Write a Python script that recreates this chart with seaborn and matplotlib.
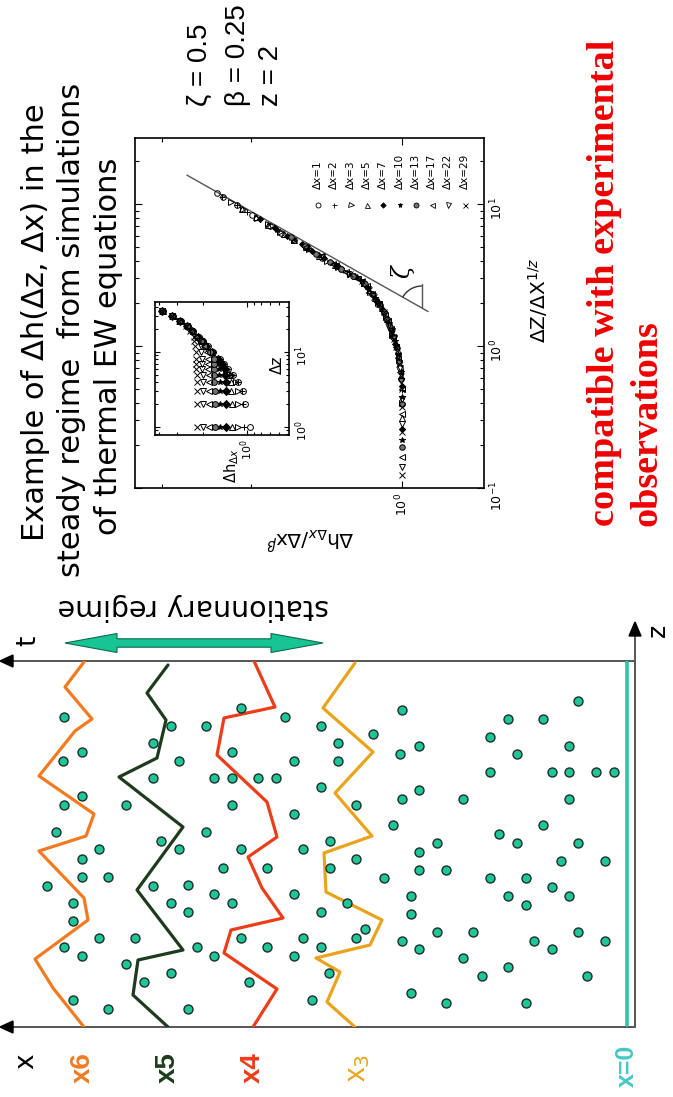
import numpy as np
import pandas as pd
import matplotlib
matplotlib.use("Agg")
import matplotlib.pyplot as plt
import seaborn as sns
from matplotlib.patches import Polygon, Arc
from matplotlib.transforms import IdentityTransform
from matplotlib.ticker import FixedLocator, NullFormatter, LogFormatterMathtext, LogLocator

sns.set_theme(style="white")
plt.rcParams["font.family"] = ["DejaVu Sans"]
plt.rcParams["mathtext.fontset"] = "dejavusans"
for key in ("text.color", "axes.labelcolor", "xtick.color", "ytick.color",
            "axes.edgecolor"):
    plt.rcParams[key] = "black"

# ---------------- scaling exponents ----------------
zeta, beta, z_dyn = 0.5, 0.25, 2

# ---------------- data collapse: Δh/Δx^β versus Δz/Δx^(1/z) ----------------
dx_values = [1, 2, 3, 5, 7, 10, 13, 17, 22, 29]
collapse_u = [
    [0.7, 1.4, 2.1, 2.8, 3.5, 4.2, 4.9, 5.6, 6.3, 7.0, 8.4, 9.8, 11.2, 11.9],
    [0.49, 0.98, 1.47, 1.96, 2.45, 2.94, 3.43, 3.92, 4.41, 4.9, 5.88, 6.86, 7.84,
     8.82, 9.8, 11.27],
    [0.4, 0.8, 1.2, 1.6, 2.0, 2.4, 2.8, 3.2, 3.6, 4.0, 4.8, 5.6, 6.4, 7.2, 8.0, 9.2, 10.4],
    [0.31, 0.62, 0.93, 1.24, 1.55, 1.86, 2.17, 2.48, 2.79, 3.1, 3.72, 4.34, 4.96, 5.58,
     6.2, 7.13, 8.06, 9.3],
    [0.26, 0.52, 0.78, 1.04, 1.3, 1.56, 1.82, 2.08, 2.34, 2.6, 3.12, 3.64, 4.16, 4.68,
     5.2, 5.98, 6.76, 7.8],
    [0.218, 0.436, 0.654, 0.872, 1.09, 1.31, 1.53, 1.74, 1.96, 2.18, 2.62, 3.05, 3.49,
     3.92, 4.36, 5.01, 5.67, 6.54],
    [0.194, 0.388, 0.582, 0.776, 0.97, 1.16, 1.36, 1.55, 1.75, 1.94, 2.33, 2.72, 3.1,
     3.49, 3.88, 4.46, 5.04, 5.82],
    [0.165, 0.33, 0.495, 0.66, 0.825, 0.99, 1.16, 1.32, 1.49, 1.65, 1.98, 2.31, 2.64,
     2.97, 3.3, 3.8, 4.29, 4.95],
    [0.141, 0.282, 0.423, 0.564, 0.705, 0.846, 0.987, 1.13, 1.27, 1.41, 1.69, 1.97,
     2.26, 2.54, 2.82, 3.24, 3.67, 4.23],
    [0.124, 0.248, 0.372, 0.496, 0.62, 0.744, 0.868, 0.992, 1.12, 1.24, 1.49, 1.74,
     1.98, 2.23, 2.48, 2.85, 3.22, 3.72],
]
collapse_h = [
    [1.01, 1.06, 1.125, 1.19, 1.32, 1.44, 1.54, 1.64, 1.74, 1.83, 1.99, 2.13, 2.27, 2.33],
    [1.0, 1.025, 1.065, 1.105, 1.155, 1.21, 1.31, 1.39, 1.47, 1.54, 1.68, 1.80, 1.92,
     2.03, 2.13, 2.28],
    [1.0, 1.015, 1.045, 1.075, 1.115, 1.155, 1.19, 1.27, 1.34, 1.41, 1.53, 1.64, 1.75,
     1.85, 1.94, 2.07, 2.19],
    [1.0, 1.005, 1.02, 1.045, 1.07, 1.095, 1.13, 1.16, 1.19, 1.24, 1.36, 1.46, 1.55,
     1.64, 1.72, 1.85, 1.95, 2.08],
    [1.0, 1.0, 1.015, 1.03, 1.05, 1.075, 1.095, 1.12, 1.145, 1.175, 1.245, 1.34, 1.43,
     1.51, 1.58, 1.69, 1.79, 1.92],
    [1.0, 1.0, 1.005, 1.018, 1.034, 1.05, 1.07, 1.088, 1.108, 1.13, 1.175, 1.23, 1.32,
     1.39, 1.46, 1.56, 1.65, 1.77],
    [1.0, 1.0, 1.005, 1.013, 1.022, 1.04, 1.055, 1.07, 1.087, 1.105, 1.145, 1.185, 1.25,
     1.32, 1.39, 1.48, 1.56, 1.66],
    [1.0, 1.0, 1.0, 1.007, 1.016, 1.025, 1.04, 1.052, 1.067, 1.08, 1.11, 1.145, 1.175,
     1.22, 1.29, 1.37, 1.45, 1.55],
    [1.0, 1.0, 1.0, 1.004, 1.01, 1.017, 1.025, 1.037, 1.048, 1.06, 1.083, 1.11, 1.14,
     1.17, 1.2, 1.28, 1.35, 1.44],
    [1.0, 1.0, 1.0, 1.0, 1.005, 1.012, 1.018, 1.025, 1.035, 1.045, 1.067, 1.085, 1.11,
     1.135, 1.16, 1.2, 1.27, 1.35],
]
fit_u = [1.75, 16.0]
fit_prefactor = 0.67

# ---------------- raw correlation Δh_Δx versus Δz (inset) ----------------
inset_dz = [1, 2, 3, 4, 5, 6, 7, 8, 10, 12, 14, 16, 19, 22, 26, 30, 35]
inset_h = [
    [0.95, 1.03, 1.07, 1.15, 1.25, 1.35, 1.44, 1.53, 1.71, 1.86, 2.0, 2.14, 2.33, 2.52,
     2.84, 3.2, 3.76],
    [1.05, 1.06, 1.08, 1.16, 1.26, 1.36, 1.45, 1.54, 1.72, 1.87, 2.01, 2.15, 2.34, 2.53,
     2.85, 3.21, 3.77],
    [1.15, 1.16, 1.16, 1.18, 1.27, 1.37, 1.46, 1.55, 1.73, 1.88, 2.02, 2.16, 2.35, 2.54,
     2.86, 3.22, 3.78],
    [1.27, 1.27, 1.28, 1.28, 1.30, 1.39, 1.47, 1.56, 1.74, 1.89, 2.03, 2.17, 2.36, 2.55,
     2.87, 3.23, 3.79],
    [1.39, 1.39, 1.40, 1.40, 1.41, 1.42, 1.49, 1.58, 1.75, 1.90, 2.04, 2.18, 2.37, 2.56,
     2.88, 3.24, 3.80],
    [1.53, 1.53, 1.54, 1.54, 1.55, 1.55, 1.56, 1.60, 1.77, 1.91, 2.05, 2.19, 2.38, 2.57,
     2.89, 3.25, 3.81],
    [1.66, 1.66, 1.66, 1.67, 1.67, 1.68, 1.68, 1.69, 1.80, 1.93, 2.06, 2.20, 2.39, 2.58,
     2.90, 3.26, 3.82],
    [1.82, 1.82, 1.82, 1.83, 1.83, 1.84, 1.84, 1.85, 1.87, 1.96, 2.08, 2.22, 2.40, 2.59,
     2.91, 3.27, 3.83],
    [2.00, 2.00, 2.00, 2.01, 2.01, 2.02, 2.02, 2.03, 2.05, 2.07, 2.12, 2.25, 2.42, 2.61,
     2.92, 3.28, 3.84],
    [2.20, 2.20, 2.20, 2.21, 2.21, 2.22, 2.22, 2.23, 2.25, 2.27, 2.29, 2.32, 2.45, 2.63,
     2.94, 3.29, 3.85],
]

# ---------------- schematic: impurities and successive front positions ----------------
# h: height above the x=0 line, z: position along the front
dot_h = [56.3, 54.5, 56.4, 47.4, 47.4, 54.5, 56.3, 50.1, 57.1, 46.6, 52.8, 54.5, 54.5,
         51.9, 58.0, 47.4, 55.4, 55.4, 52.8, 49.2, 56.3, 54.5, 50.1, 48.3, 55.4, 51.9,
         38.6, 34.2, 45.6, 42.1, 30.6, 39.5, 44.8, 33.3, 41.3, 39.5, 36.9, 35.1, 30.6,
         39.5, 33.3, 42.1, 44.8, 38.6, 32.4, 40.4, 36.0, 43.9, 41.3, 45.6, 43.9, 39.5,
         33.3, 30.6, 38.6, 32.4, 43.0, 36.0, 30.6, 41.3, 33.3, 45.6, 37.8, 31.5, 43.9,
         22.5, 25.4, 28.9, 20.8, 22.7, 28.9, 20.8, 22.5, 16.4, 27.1, 23.4, 29.7, 19.0,
         20.8, 27.1, 29.7, 20.8, 18.1, 24.3, 21.6, 28.0, 21.6, 26.2, 27.1, 19.0, 15.4,
         22.5, 20.8, 16.4, 29.8, 14.5, 21.6, 18.1,
         4.9, 11.9, 8.4, 13.7, 5.8, 11.0, 13.7, 7.5, 5.8, 3.1, 1.3, 5.8, 8.4, 12.8,
         11.0, 4.9, 6.6, 2.2, 13.7, 10.1, 7.5, 11.9, 10.1, 5.8, 4.9, 9.3, 2.2, 7.5,
         11.9, 4.0, 10.1]
dot_z = [31.0, 27.5, 26.6, 28.4, 24.9, 23.1, 22.2, 22.2, 19.5, 18.6, 17.8, 16.8, 15.0,
         15.0, 14.1, 14.1, 12.4, 10.6, 8.9, 8.9, 8.0, 7.1, 6.3, 4.5, 2.7, 1.8,
         31.9, 31.0, 30.1, 30.1, 30.1, 27.5, 26.6, 26.6, 24.9, 24.9, 24.9, 24.9, 24.0,
         22.2, 21.3, 19.5, 17.8, 17.8, 17.8, 15.9, 15.9, 14.2, 13.3, 12.4, 11.5, 12.4,
         13.3, 11.5, 8.9, 8.9, 8.0, 8.0, 8.0, 7.1, 7.1, 5.4, 4.5, 2.7, 1.8,
         31.7, 29.3, 28.4, 28.1, 27.3, 26.6, 23.7, 22.8, 22.8, 22.2, 20.2, 18.6, 18.4,
         17.5, 16.8, 15.9, 15.7, 15.7, 14.9, 13.1, 12.4, 11.3, 9.8, 8.9, 9.5, 9.5,
         8.6, 7.8, 6.9, 5.4, 5.1, 3.4, 2.4,
         32.6, 30.8, 30.8, 29.0, 28.1, 27.3, 25.5, 25.5, 25.5, 25.5, 25.5, 22.8, 20.2, 19.3,
         18.4, 18.4, 16.6, 16.6, 14.9, 14.9, 14.0, 13.1, 12.2, 13.1, 9.5, 8.6, 8.6, 7.8,
         6.0, 5.1, 2.4]

front_names = ["x6", "x5", "x4", "x3"]
front_h = [
    [54.3, 56.2, 53.5, 55.2, 58.8, 53.3, 54.1, 58.8, 54.3, 53.9, 59.2, 57.4, 54.3],
    [45.9, 48.0, 46.1, 47.0, 50.8, 44.4, 49.0, 44.4, 48.9, 49.4, 45.9],
    [37.3, 35.2, 40.3, 41.0, 36.0, 35.0, 37.9, 36.5, 34.4, 39.6, 40.3, 35.0, 37.4],
    [27.2, 30.4, 25.4, 29.2, 25.5, 30.3, 30.1, 24.5, 25.7, 31.1, 28.7, 30.0, 27.2],
]
front_z = [
    [36.5, 34.0, 30.8, 29.6, 25.1, 21.3, 19.1, 17.6, 12.9, 10.7, 6.8, 3.9, 0.0],
    [36.2, 33.4, 30.7, 26.9, 25.0, 20.0, 13.7, 7.7, 6.7, 3.2, 0.0],
    [36.6, 32.0, 30.9, 27.2, 22.5, 19.0, 17.0, 13.9, 10.9, 9.7, 7.4, 3.8, 0.0],
    [36.4, 31.9, 27.5, 23.4, 19.1, 17.4, 13.5, 10.7, 8.2, 6.9, 5.5, 2.5, 0.0],
]
front_colors = ["#f37a1f", "#1d3b1d", "#ec3d18", "#e9a31c"]

# ---------------- figure ----------------
W, H = 673, 1097
fig = plt.figure(figsize=(W / 100, H / 100), dpi=100)
fig.patch.set_facecolor("white")


def fx(px):
    return px / W


def fy(py):
    return 1 - py / H


series_style = [
    dict(marker="o", mfc="none"),
    dict(marker="+"),
    dict(marker=">", mfc="none"),
    dict(marker="^", mfc="none"),
    dict(marker="D", mfc="black", ms=3.0),
    dict(marker="*", mfc="black"),
    dict(marker="o", mfc="0.45"),
    dict(marker="<", mfc="none"),
    dict(marker="v", mfc="none"),
    dict(marker="x"),
]


def style_log_axes(a, fs=9):
    for s in a.spines.values():
        s.set_linewidth(1.2)
        s.set_color("black")
    a.tick_params(which="both", direction="in", top=True, bottom=True, left=True,
                  right=True, colors="black", labelsize=fs, width=0.8)
    a.tick_params(which="major", length=5)
    a.tick_params(which="minor", length=3)
    a.tick_params(axis="x", labelrotation=90, labelbottom=True, labeltop=False)
    a.tick_params(axis="y", labelrotation=90, labelright=True, labelleft=False)
    a.set_facecolor("white")
    a.grid(False)


# ---- main collapse panel (drawn with Δh horizontal, increasing leftwards) ----
ax = fig.add_axes([fx(135), fy(488), 349 / W, 350 / H])
ax.set_xscale("log")
ax.set_yscale("log")
for k in range(len(dx_values)):
    st = dict(series_style[k])
    ms = st.pop("ms", 4.0)
    ax.plot(collapse_h[k], collapse_u[k], ls="none", ms=ms, mec="black", mew=0.7,
            color="black", **st)
fit_h = [fit_prefactor * u ** zeta for u in fit_u]
ax.plot(fit_h, fit_u, color="#555555", lw=1.0, zorder=1)
ax.set_xlim(3.40, 0.686)
ax.set_ylim(0.1, 29.2)
style_log_axes(ax)
ax.xaxis.set_major_locator(FixedLocator([1.0]))
ax.xaxis.set_minor_locator(FixedLocator([2.0, 3.0]))
ax.xaxis.set_major_formatter(LogFormatterMathtext())
ax.xaxis.set_minor_formatter(NullFormatter())
ax.yaxis.set_major_locator(FixedLocator([0.1, 1.0, 10.0]))
ax.yaxis.set_minor_locator(LogLocator(base=10, subs=np.arange(2, 10)))
ax.yaxis.set_major_formatter(LogFormatterMathtext())
ax.yaxis.set_minor_formatter(NullFormatter())
ax.yaxis.set_label_position("right")
ax.set_ylabel(r"ΔZ/ΔX$^{1/z}$", fontsize=14.5, rotation=90)
ax.yaxis.set_label_coords((526 - 135) / 349, (488 - 300) / 350)
ax.set_xlabel(r"Δh$_{Δx}$/Δx$^{β}$", fontsize=14.5, rotation=180)
ax.xaxis.set_label_coords(0.5, (488 - 525) / 350)

# angle marker for the ζ slope
u0 = 1.853
h0 = fit_prefactor * u0 ** zeta
ax.plot([h0, h0], [u0, 2.75], color="#555555", lw=1.0)
p0 = ax.transData.transform((h0, u0))
p1 = ax.transData.transform((fit_h[1], fit_u[1]))
ang = np.degrees(np.arctan2(p1[1] - p0[1], p1[0] - p0[0]))
arc = Arc(p0, 44, 44, theta1=90, theta2=ang, transform=IdentityTransform(),
          color="#333333", lw=1.0)
fig.add_artist(arc)
fig.text(fx(402), fy(272), "ζ", rotation=90, ha="center", va="center", fontsize=17,
         family="DejaVu Serif", style="italic")

# legend drawn along the rotated panel
for k, dx in enumerate(dx_values):
    xf = (318 + 16.3 * k - 135) / 349
    st = dict(series_style[k])
    ms = st.pop("ms", 4.0)
    ax.plot([xf], [0.809], transform=ax.transAxes, ls="none", ms=ms * 0.9, mec="black",
            mew=0.6, color="black", clip_on=False, **st)
    ax.text(xf, 0.855, f"Δx={dx}", transform=ax.transAxes, rotation=90, ha="center",
            va="bottom", fontsize=7.5)

# ---- inset: raw correlation ----
axi = fig.add_axes([fx(155), fy(435), 134 / W, 133 / H])
axi.set_xscale("log")
axi.set_yscale("log")
for k in range(len(dx_values)):
    st = dict(series_style[k])
    st.pop("ms", None)
    axi.plot(inset_h[k], inset_dz, ls="none", ms=4.2, mec="black", mew=0.7,
             color="black", **st)
axi.set_xlim(4.27, 0.515)
axi.set_ylim(0.78, 46.4)
style_log_axes(axi, fs=8)
axi.xaxis.set_major_locator(FixedLocator([1.0]))
axi.xaxis.set_minor_locator(FixedLocator([2.0, 3.0, 4.0, 0.6, 0.7, 0.8, 0.9]))
axi.xaxis.set_major_formatter(LogFormatterMathtext())
axi.xaxis.set_minor_formatter(NullFormatter())
axi.yaxis.set_major_locator(FixedLocator([1.0, 10.0]))
axi.yaxis.set_minor_locator(LogLocator(base=10, subs=np.arange(2, 10)))
axi.yaxis.set_major_formatter(LogFormatterMathtext())
axi.yaxis.set_minor_formatter(NullFormatter())
axi.tick_params(which="major", length=3.5)
axi.tick_params(which="minor", length=2)
axi.text(0.91, 0.53, "Δz", transform=axi.transAxes, rotation=90, ha="center",
         va="center", fontsize=11)
axi.text((232 - 155) / 134, (435 - 466) / 133, r"Δh$_{Δx}$", transform=axi.transAxes,
         rotation=90, ha="center", va="center", fontsize=10.5)

# ---- schematic of the interface ----
axd = fig.add_axes([0, fy(1027), 635 / W, 366 / H])
axd.set_xlim(62.7, -0.8)
axd.set_ylim(0, 36.6)
axd.axis("off")

for name, hh, zz, col in zip(front_names, front_h, front_z, front_colors):
    sns.lineplot(x=hh, y=zz, sort=False, estimator=None, ax=axd, color=col, lw=2.3,
                 zorder=2)

dots = pd.DataFrame({"h": dot_h, "z": dot_z})
sns.scatterplot(data=dots, x="h", y="z", ax=axd, s=42, color="#1fc699",
                edgecolor="#1d2e28", linewidth=1.0, zorder=3, legend=False)

axd.plot([0, 0], [0.2, 36.5], color="#22c9a6", lw=2.6, zorder=2)
line_kw = dict(color="#555555", lw=1.4, clip_on=False, zorder=1)
axd.plot([-0.8, 61.5], [36.6, 36.6], **line_kw)
axd.plot([-0.8, 61.5], [0, 0], **line_kw)
axd.plot([-0.8, -0.8], [0, 39.2], **line_kw)
head_kw = dict(closed=True, color="black", clip_on=False, zorder=4)
for zc in (36.6, 0.0):
    axd.add_patch(Polygon([[62.7, zc], [61.4, zc + 0.6], [61.4, zc - 0.6]], **head_kw))
axd.add_patch(Polygon([[-0.8, 40.5], [-0.2, 39.1], [-1.4, 39.1]], **head_kw))

# stationary-regime double arrow
hL, hR, zc = 56.2, 30.4, 38.4
hl, hw, sw = 5.2, 0.95, 0.42
arrow_pts = [[hL, zc], [hL - hl, zc + hw], [hL - hl, zc + sw], [hR + hl, zc + sw],
             [hR + hl, zc + hw], [hR, zc], [hR + hl, zc - hw], [hR + hl, zc - sw],
             [hL - hl, zc - sw], [hL - hl, zc - hw]]
axd.add_patch(Polygon(arrow_pts, closed=True, facecolor="#17c494", edgecolor="#0e6a4e",
                      lw=0.8, clip_on=False, zorder=4))

# ---- texts ----
fig.text(fx(193), fy(607), "stationnary regime", rotation=180, ha="center", va="center",
         fontsize=20.5)
fig.text(fx(28), fy(641), "t", rotation=90, ha="center", va="center", fontsize=19)
fig.text(fx(26), fy(1061), "x", rotation=90, ha="center", va="center", fontsize=19)
fig.text(fx(658), fy(630), "z", rotation=90, ha="center", va="center", fontsize=18)
label_x = [83, 168, 253]
for name, col, px in zip(front_names[:3], front_colors[:3], label_x):
    fig.text(fx(px), fy(1068), name, rotation=90, ha="center", va="center", fontsize=20,
             weight="bold", color=col, family="Liberation Sans")
fig.text(fx(358), fy(1068), r"x$_3$", rotation=90, ha="center", va="center", fontsize=21,
         color=front_colors[3], family="Liberation Sans")
fig.text(fx(627), fy(1066), "x=0", rotation=90, ha="center", va="center", fontsize=18,
         weight="bold", color="#45c9c6", family="Liberation Sans")

fig.text(fx(36), fy(322), "Example of Δh(Δz, Δx) in the", rotation=90, ha="center",
         va="center", fontsize=22)
fig.text(fx(72), fy(330), "steady regime  from simulations", rotation=90, ha="center",
         va="center", fontsize=22)
fig.text(fx(109), fy(346), "of thermal EW equations", rotation=90, ha="center",
         va="center", fontsize=22)

for txt, px in ((f"ζ = {zeta}", 200), (f"β = {beta}", 238), (f"z = {z_dyn}", 271)):
    fig.text(fx(px), fy(106), txt, rotation=90, ha="center", va="bottom", fontsize=20,
             family="Liberation Sans")

fig.text(fx(604), fy(526), "compatible with experimental", rotation=90, ha="center",
         va="bottom", fontsize=27.5, family="Liberation Serif", weight="bold",
         color="#ee0000")
fig.text(fx(647), fy(526), "observations", rotation=90, ha="center", va="bottom",
         fontsize=27.5, family="Liberation Serif", weight="bold", color="#ee0000")

fig.savefig("out.png", dpi=100)
